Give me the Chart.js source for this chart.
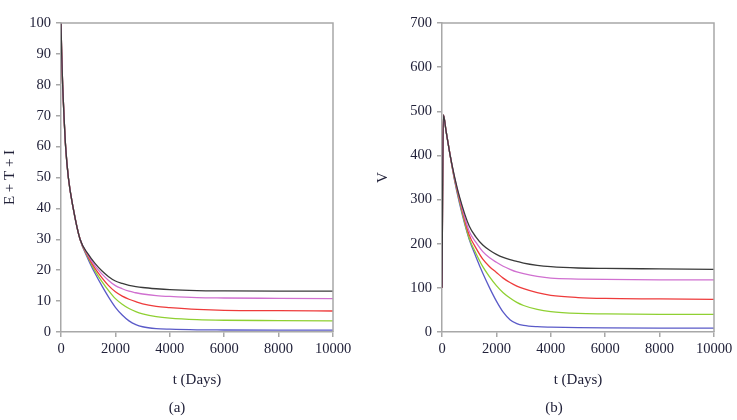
<!DOCTYPE html>
<html>
<head>
<meta charset="utf-8">
<script src="https://cdn.jsdelivr.net/npm/chart.js@4"></script>
<style>
  body { margin: 0; background: #fff; }
  #wrap { position: relative; width: 737px; height: 420px; overflow: hidden; }
  .panel { position: absolute; top: 0; height: 420px; }
  .caption {
    position: absolute; top: 399px; width: 40px; text-align: center;
    font: 15px "Liberation Serif", "DejaVu Serif", serif; color: #22223a;
  }
</style>
</head>
<body>
<div id="wrap">
  <div class="panel" style="left:0;width:370px"><canvas id="chartA" width="370" height="420"></canvas></div>
  <div class="panel" style="left:370px;width:367px"><canvas id="chartB" width="367" height="420"></canvas></div>
  <div class="caption" style="left:157px">(a)</div>
  <div class="caption" style="left:534px">(b)</div>
</div>
<script>
// Panel (a): E + T + I against time
const daysA = [0, 25, 60, 110, 170, 270, 450, 700, 1000, 1250, 1500, 1750, 2000, 2250, 2500, 2750, 3000, 3500, 4000, 5000, 6000, 8000, 10000];
const etiBlack   = [100, 90, 80, 70, 60, 50, 40, 30, 25.2, 22.2, 19.8, 17.9, 16.5, 15.7, 15.1, 14.7, 14.4, 14.0, 13.7, 13.4, 13.3, 13.2, 13.2];
const etiMagenta = [100, 90, 80, 70, 60, 50, 40, 30, 24.8, 21.4, 18.8, 16.7, 15.0, 14.0, 13.2, 12.7, 12.3, 11.8, 11.5, 11.1, 11.0, 10.9, 10.8];
const etiRed     = [100, 90, 80, 70, 60, 50, 40, 30, 24.4, 20.6, 17.6, 15.0, 13.0, 11.6, 10.6, 9.8, 9.1, 8.3, 7.9, 7.3, 7.0, 6.9, 6.8];
const etiGreen   = [100, 90, 80, 70, 60, 50, 40, 30, 24.0, 19.8, 16.4, 13.4, 10.8, 9.0, 7.6, 6.6, 5.9, 5.0, 4.5, 4.0, 3.8, 3.7, 3.6];
const etiBlue    = [100, 90, 80, 70, 60, 50, 40, 30, 23.5, 19.0, 15.0, 11.3, 8.0, 5.5, 3.6, 2.4, 1.7, 1.1, 0.9, 0.7, 0.65, 0.6, 0.6];

// Panel (b): V against time
const daysB = [0, 50, 150, 300, 450, 650, 1000, 1250, 1500, 1750, 2000, 2250, 2500, 2750, 3000, 3500, 4000, 5000, 6000, 8000, 10000];
const vBlack   = [100, 492, 455, 400, 355, 305, 240, 215, 197, 185, 176, 169, 164, 160, 156, 151, 148, 145, 144, 143, 142];
const vMagenta = [100, 492, 455, 400, 353, 302, 228, 203, 182, 168, 158, 149, 142, 136, 132, 126, 122, 120, 119, 118, 118];
const vRed     = [100, 492, 455, 400, 351, 298, 220, 190, 165, 148, 135, 122, 112, 104, 98, 89, 83, 78, 76, 75, 74];
const vGreen   = [100, 492, 455, 400, 349, 294, 212, 178, 148, 125, 105, 89, 77, 67, 60, 51, 46, 42, 41, 40, 40];
const vBlue    = [100, 492, 455, 400, 347, 290, 210, 170, 133, 100, 70, 45, 28, 19, 15, 12, 11, 10, 9.5, 9, 9];

const lineColors = ['#3a3a3a', '#d070d0', '#ee3b3b', '#8fd032', '#5a5ac8'];
const FONT = '"Liberation Serif", "DejaVu Serif", serif';
const TEXT = '#22223a';
const AXIS = '#a8a8a8';

// draws the top and right sides of the plot box
const framePlugin = {
    id: 'frame',
    afterDatasetsDraw(chart) {
        const { ctx, chartArea: a } = chart;
        ctx.save();
        ctx.strokeStyle = AXIS;
        ctx.lineWidth = 1.5;
        ctx.beginPath();
        ctx.moveTo(a.left, a.top);
        ctx.lineTo(a.right, a.top);
        ctx.lineTo(a.right, a.bottom);
        ctx.stroke();
        ctx.restore();
    }
};

function toPoints(days, vals) {
    return days.map((t, i) => ({ x: t, y: vals[i] }));
}

function makePanel(id, days, series, yMax, yStep, yTitle, opts) {
    const datasets = series.map((vals, i) => ({
        data: toPoints(days, vals),
        borderColor: lineColors[i],
        borderWidth: 1.3,
        pointRadius: 0,
        fill: false,
        cubicInterpolationMode: 'monotone'
    }));

    return new Chart(document.getElementById(id), {
        type: 'line',
        data: { datasets: datasets },
        options: {
            responsive: false,
            devicePixelRatio: 1,
            animation: false,
            layout: { padding: { top: opts.top, right: opts.right, bottom: 27, left: 0 } },
            plugins: { legend: { display: false }, tooltip: { enabled: false } },
            scales: {
                x: {
                    type: 'linear',
                    min: 0, max: 10000,
                    afterFit: s => { s.height = 61; },
                    ticks: { stepSize: 2000, color: TEXT, padding: 3, maxRotation: 0,
                             callback: v => String(v),
                             font: { family: FONT, size: 14.5 } },
                    grid: { drawOnChartArea: false, drawTicks: true, tickLength: 5, color: AXIS, lineWidth: 1.5 },
                    border: { color: AXIS, width: 1.5 },
                    title: { display: true, text: 't (Days)', color: TEXT,
                             font: { family: FONT, size: 15 }, padding: { top: 4, bottom: 4 } }
                },
                y: {
                    min: 0, max: yMax,
                    afterFit: s => { s.width = opts.yWidth; },
                    ticks: { stepSize: yStep, color: TEXT, padding: 5,
                             callback: v => String(v),
                             font: { family: FONT, size: 14.5 } },
                    grid: { drawOnChartArea: false, drawTicks: true, tickLength: 5, color: AXIS, lineWidth: 1.5 },
                    border: { color: AXIS, width: 1.5 },
                    title: { display: true, text: yTitle, color: TEXT,
                             font: { family: FONT, size: 15 }, padding: { top: opts.titlePad, bottom: 0 } }
                }
            }
        },
        plugins: [framePlugin]
    });
}

makePanel('chartA', daysA, [etiBlack, etiMagenta, etiRed, etiGreen, etiBlue], 100, 10, 'E + T + I',
          { top: 23, right: 37, yWidth: 61, titlePad: 1 });
makePanel('chartB', daysB, [vBlack, vMagenta, vRed, vGreen, vBlue], 700, 100, 'V',
          { top: 23, right: 23, yWidth: 72, titlePad: 4 });
</script>
</body>
</html>
